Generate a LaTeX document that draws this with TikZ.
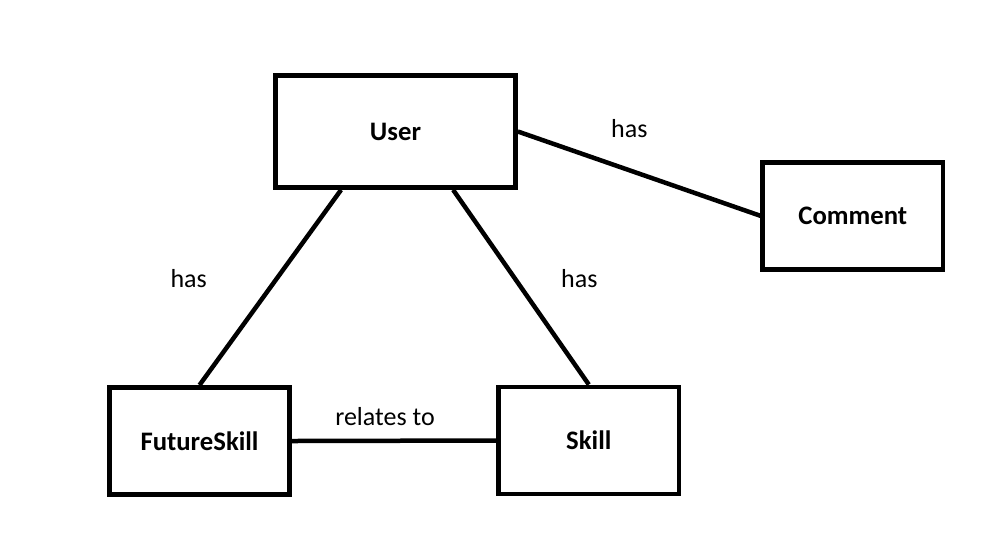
\documentclass[tikz,border=0pt]{standalone}
\usepackage{fontspec}
\setmainfont{Carlito}
\usepackage{tikz}
\usetikzlibrary{positioning}
\tikzset{
  entity/.style={draw=black, line width=3.3pt, inner sep=0pt,
    minimum width=4.5cm, minimum height=2.68cm,
    font=\fontsize{19}{22}\selectfont\bfseries},
  link/.style={draw=black, line width=3.2pt},
  lab/.style={text=black, font=\fontsize{18.5}{22}\selectfont}
}
\begin{document}
\begin{tikzpicture}[x=0.025cm, y=-0.025cm, line cap=butt, line join=miter]
  \useasboundingbox (0,0) rectangle (984,549);
  \node[entity, minimum width=6cm, minimum height=2.8cm] (User) at (395.5,131.5) {User};
  \node[entity] (Comment) at (852.8,215.8) {Comment};
  \node[entity] (FutureSkill) at (199.5,441) {FutureSkill};
  \node[entity] (Skill) at (588.8,440.5) {Skill};
  \draw[link] ([xshift=-1.36cm]User.south) -- (FutureSkill.north);
  \draw[link] ([xshift=1.44cm]User.south) -- (Skill.north);
  \draw[link] (User.east) -- (Comment.west);
  \draw[link] (FutureSkill.east) -- (Skill.west);
  \node[lab] (hasFuture) at (188.7,278.7) {has};
  \node[lab] (hasSkill) at (579.3,278.5) {has};
  \node[lab] (hasComment) at (629.3,128.7) {has};
  \node[lab] (relatesTo) at (385,417) {relates to};
\end{tikzpicture}
\end{document}
